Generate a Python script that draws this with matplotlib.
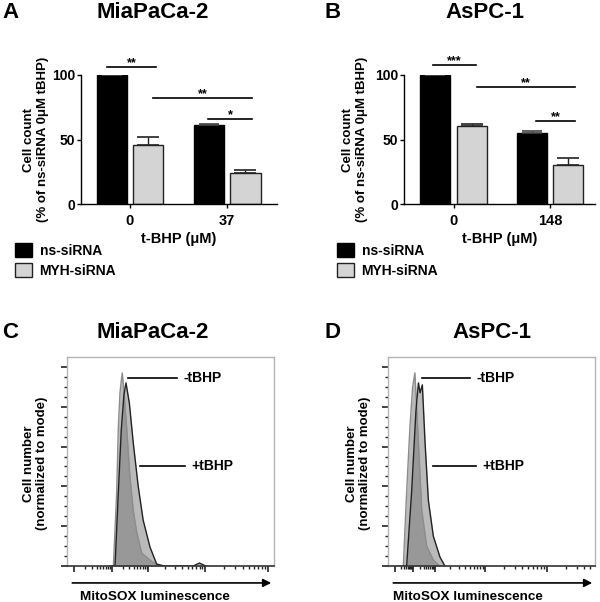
import matplotlib
matplotlib.use('Agg')
import matplotlib.pyplot as plt
import numpy as np

plt.rcParams['font.family'] = ['Liberation Sans', 'DejaVu Sans']
plt.rcParams['font.weight'] = 'bold'
plt.rcParams['axes.labelweight'] = 'bold'

# ---- bar chart data (A, B) ----
groups_A = ['0', '37']
ns_A = [100, 61.5]
ns_A_err = [0, 0.5]
myh_A = [45.5, 23.8]
myh_A_err = [6.5, 2.2]
sig_A = [(-0.24, 0.27, 106, '**'), (0.24, 1.26, 82.4, '**'), (0.80, 1.26, 66, '*')]

groups_B = ['0', '148']
ns_B = [100, 54.8]
ns_B_err = [0, 1.6]
myh_B = [60.8, 30.0]
myh_B_err = [1.6, 5.4]
sig_B = [(-0.21, 0.23, 108, '***'), (0.24, 1.26, 91, '**'), (0.85, 1.26, 64.3, '**')]

# ---- flow histograms (C, D), x in display fraction, y in % of mode ----
c_minus_x = [0.200, 0.224, 0.240, 0.248, 0.256, 0.262, 0.267, 0.275, 0.288, 0.304, 0.320, 0.337, 0.361, 0.401, 0.440]
c_minus_y = [0, 0, 37, 70, 87, 93, 97, 88, 70, 45, 28, 17, 6.5, 3, 0]
c_plus_x = [0.215, 0.232, 0.248, 0.262, 0.275, 0.285, 0.301, 0.320, 0.344, 0.368, 0.401, 0.433, 0.470, 0.610, 0.640, 0.670]
c_plus_y = [0, 0, 37, 68, 86, 92, 82, 62, 40, 23, 9.5, 1, 0, 0, 1.5, 0]

d_minus_x = [0.050, 0.074, 0.090, 0.106, 0.119, 0.130, 0.147, 0.163, 0.187, 0.219, 0.250]
d_minus_y = [0, 0, 37, 70, 90, 97, 62, 28, 10, 3, 0]
d_plus_x = [0.075, 0.090, 0.114, 0.135, 0.147, 0.155, 0.166, 0.179, 0.195, 0.219, 0.251, 0.275]
d_plus_y = [0, 0, 37, 78, 92, 87, 91, 62, 33, 15, 4.5, 0]

majors_C = [0.034, 0.216, 0.393, 0.667, 0.971]
majors_D = [0.035, 0.121, 0.227, 0.469, 0.768]

fig = plt.figure(figsize=(6, 6.02), dpi=100)


def px(x, y, w, h):
    return [x / 600, 1 - (y + h) / 602, w / 600, h / 602]


axA = fig.add_axes(px(81, 75, 196, 129))
axB = fig.add_axes(px(404, 75, 191, 129))
axC = fig.add_axes(px(67, 357, 207, 209))
axD = fig.add_axes(px(388, 357, 207, 209))


def bar_panel(ax, groups, ns, ns_err, myh, myh_err, sigs, xlim, ylab_x, leg_x):
    x = np.arange(len(groups))
    ax.bar(x - 0.19, ns, 0.31, color='black', edgecolor='black', linewidth=1, label='ns-siRNA')
    ax.bar(x + 0.19, myh, 0.31, color='#d4d4d4', edgecolor='#222222', linewidth=1, label='MYH-siRNA')
    ax.errorbar(x - 0.19, ns, yerr=[np.zeros(len(ns)), ns_err], fmt='none', ecolor='#444444',
                capsize=7, elinewidth=1, capthick=1.2)
    ax.errorbar(x + 0.19, myh, yerr=[np.zeros(len(myh)), myh_err], fmt='none', ecolor='#222222',
                capsize=8, elinewidth=1, capthick=1.2)
    ax.set_xlim(xlim)
    ax.set_ylim(0, 100)
    ax.spines['top'].set_visible(False)
    ax.spines['right'].set_visible(False)
    for s in ['left', 'bottom']:
        ax.spines[s].set_linewidth(1)
    ax.set_yticks([0, 50, 100])
    ax.set_xticks(x, groups)
    ax.tick_params(axis='y', length=3, width=1, labelsize=10, pad=1)
    ax.tick_params(axis='x', length=3, width=1, labelsize=10.5, pad=4)
    for x0, x1, y, s in sigs:
        ax.plot([x0, x1], [y, y], color='black', lw=1.2, clip_on=False)
        ax.annotate(s, xy=((x0 + x1) / 2, y), xytext=(0, 0.5), textcoords='offset points',
                    ha='center', va='baseline', fontsize=9, annotation_clip=False)
    ax.set_xlabel('t-BHP (μM)', fontsize=10.5, fontweight='bold')
    ax.xaxis.set_label_coords(0.5, -0.215)
    ax.set_ylabel('Cell count\n(% of ns-siRNA 0μM tBHP)', fontsize=9.5, fontweight='bold', linespacing=1.15)
    ax.yaxis.set_label_coords(ylab_x, 0.5)
    ax.legend(loc='upper left', bbox_to_anchor=(leg_x / 600, 1 - 243 / 602),
              bbox_transform=fig.transFigure, frameon=False, fontsize=10,
              handlelength=1.22, handleheight=1.22, handletextpad=0.55,
              labelspacing=0.36, borderpad=0, borderaxespad=0)


def flow_minors(majors):
    k = np.log10(np.arange(2, 10))
    step = majors[-1] - majors[-2]
    edges = list(majors) + [majors[-1] + step]
    m = []
    for a, b in zip(edges[:-1], edges[1:]):
        m += list(a + (b - a) * k)
    return [v for v in m if 0 < v < 1]


def flow_panel(ax, mx, my, plx, ply, majors, lab_minus, lab_plus, ylab_x, txt_x):
    ax.fill_between(mx, my, color='#777777', alpha=0.5, lw=0)
    ax.plot(mx, my, color='#8c8c8c', lw=1)
    ax.fill_between(plx, ply, color='#777777', alpha=0.5, lw=0)
    ax.plot(plx, ply, color='#222222', lw=1)
    ax.set_xlim(0, 1)
    ax.set_ylim(0, 105)
    for s in ['top', 'right', 'left']:
        ax.spines[s].set_color('#b4b4b4')
        ax.spines[s].set_linewidth(1)
    ax.spines['bottom'].set_color('#333333')
    ax.spines['bottom'].set_linewidth(1.2)
    ax.set_yticks(np.arange(0, 101, 20))
    ax.set_yticks(np.arange(0, 101, 5), minor=True)
    ax.set_xticks(majors)
    ax.set_xticks(flow_minors(majors), minor=True)
    ax.tick_params(which='both', labelleft=False, labelbottom=False, color='#222222')
    ax.tick_params(which='major', length=4.5, width=1.2)
    ax.tick_params(which='minor', length=2.2, width=1)
    # curve labels
    for (x0, x1, y), label in [(lab_minus, '-tBHP'), (lab_plus, '+tBHP')]:
        ax.plot([x0, x1], [y, y], color='black', lw=1.2, transform=ax.transAxes)
        ax.text(x1 + 0.03, y, label, transform=ax.transAxes, ha='left', va='center', fontsize=10)
    ax.annotate('', xy=(1.0, -0.081), xytext=(0.012, -0.081), xycoords='axes fraction',
                arrowprops=dict(arrowstyle='-|>', color='black', lw=1.2, mutation_scale=12))
    ax.text(txt_x, -0.148, 'MitoSOX luminescence', transform=ax.transAxes, ha='left', va='center',
            fontsize=9.7)
    ax.set_ylabel('Cell number\n(normalized to mode)', fontsize=9.5, fontweight='bold', linespacing=1.15)
    ax.yaxis.set_label_coords(ylab_x, 0.49)


bar_panel(axA, groups_A, ns_A, ns_A_err, myh_A, myh_A_err, sig_A, (-0.505, 1.515), -0.165, 15)
bar_panel(axB, groups_B, ns_B, ns_B_err, myh_B, myh_B_err, sig_B, (-0.513, 1.466), -0.19, 337)

flow_panel(axC, c_minus_x, c_minus_y, c_plus_x, c_plus_y, majors_C,
           (0.295, 0.531, 0.9), (0.353, 0.570, 0.478), -0.092, 0.063)
flow_panel(axD, d_minus_x, d_minus_y, d_plus_x, d_plus_y, majors_D,
           (0.164, 0.396, 0.9), (0.217, 0.425, 0.478), -0.082, 0.024)

for x, y, t in [(153, 12, 'MiaPaCa-2'), (485, 12, 'AsPC-1'), (153, 333, 'MiaPaCa-2'), (492, 333, 'AsPC-1')]:
    fig.text(x / 600, 1 - y / 602, t, ha='center', va='center', fontsize=16)
for x, y, t in [(2, 12, 'A'), (325, 12, 'B'), (2, 333, 'C'), (325, 333, 'D')]:
    fig.text(x / 600, 1 - y / 602, t, ha='left', va='center', fontsize=16)

fig.savefig('out.png', dpi=100)
